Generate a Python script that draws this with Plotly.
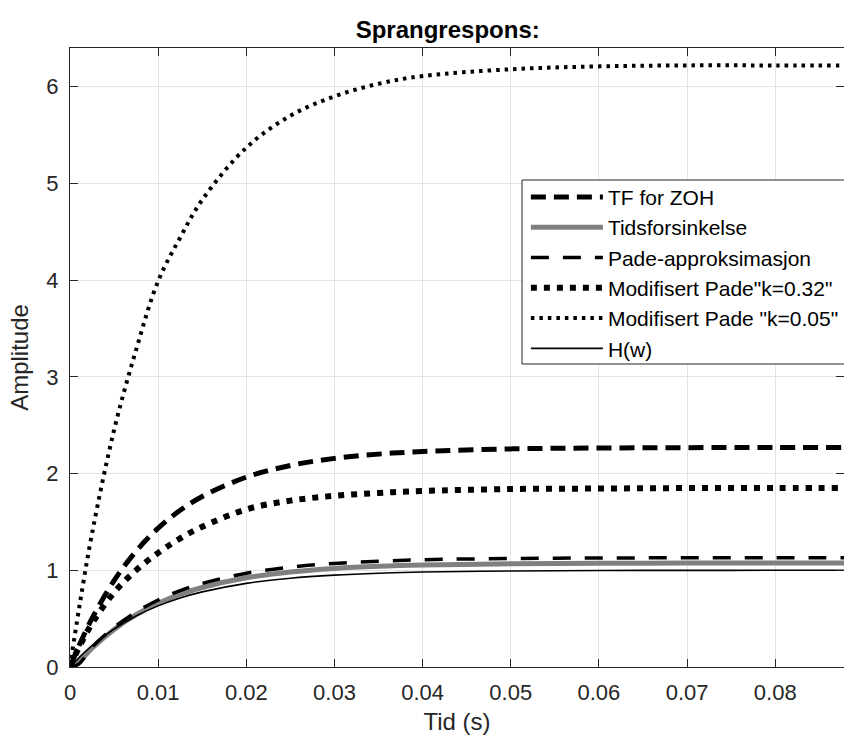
import plotly.graph_objects as go

# time samples (s)
t = [0, 0.001, 0.0025, 0.005, 0.0075, 0.01, 0.0125, 0.015, 0.02, 0.025,
     0.03, 0.035, 0.04, 0.05, 0.06, 0.07, 0.08, 0.09]

tf_zoh = [0, 0.216, 0.502, 0.893, 1.198, 1.435, 1.620, 1.763, 1.963, 2.084,
          2.157, 2.201, 2.228, 2.255, 2.264, 2.268, 2.269, 2.27]
tidsforsinkelse = [0, 0.052, 0.195, 0.389, 0.541, 0.659, 0.751, 0.822, 0.922, 0.982,
                   1.019, 1.041, 1.054, 1.067, 1.072, 1.074, 1.075, 1.075]
pade = [0, 0.03, 0.205, 0.409, 0.568, 0.693, 0.790, 0.864, 0.970, 1.033,
        1.071, 1.094, 1.109, 1.122, 1.127, 1.129, 1.13, 1.13]
mod_k032 = [0, 0.2, 0.45, 0.77, 1.0, 1.18, 1.33, 1.45, 1.63, 1.72,
            1.77, 1.80, 1.82, 1.84, 1.845, 1.85, 1.85, 1.85]
mod_k005 = [0, 0.59, 1.38, 2.45, 3.28, 3.99, 4.44, 4.83, 5.37, 5.70,
            5.90, 6.03, 6.11, 6.18, 6.21, 6.22, 6.22, 6.22]
h_w = [0, 0.095, 0.221, 0.393, 0.528, 0.632, 0.714, 0.777, 0.865, 0.918,
       0.950, 0.970, 0.982, 0.993, 0.9975, 0.999, 0.9997, 0.9999]

names = ['TF for ZOH', 'Tidsforsinkelse', 'Pade-approksimasjon',
         'Modifisert Pade"k=0.32"', 'Modifisert Pade "k=0.05"', 'H(w)']
series = [tf_zoh, tidsforsinkelse, pade, mod_k032, mod_k005, h_w]
styles = [
    dict(color='black', width=5, dash='15px,8px'),
    dict(color='#808080', width=5, dash='solid'),
    dict(color='black', width=3.5, dash='18px,14px'),
    dict(color='black', width=6, dash='6px,7px'),
    dict(color='black', width=4, dash='3.5px,5px'),
    dict(color='black', width=1.6, dash='solid'),
]

font = 'Liberation Sans, Arial, Helvetica, sans-serif'

fig = go.Figure()
for i, (nm, ys, st) in enumerate(zip(names, series, styles)):
    fig.add_trace(go.Scatter(x=t, y=ys, name=nm, mode='lines',
                             line=dict(shape='spline', smoothing=1.0, **st),
                             legendgroup=str(i)))

axis_common = dict(showgrid=True, gridcolor='#e3e3e3', gridwidth=1,
                   showline=True, linecolor='#262626', linewidth=1,
                   mirror='allticks', ticks='inside', ticklen=8,
                   tickcolor='#262626', zeroline=False, automargin=False,
                   tickfont=dict(family=font, size=22, color='#262626'))

# legend box (extends past the right edge of the figure, as in the original)
fig.add_shape(type='rect', xref='paper', yref='paper',
              x0=0.584, x1=1.05, y0=(667 - 364) / 619, y1=(667 - 180) / 619,
              line=dict(color='#262626', width=1), fillcolor='white', layer='above')

fig.update_layout(
    width=844, height=742,
    margin=dict(l=70, r=0, t=48, b=75, autoexpand=False),
    paper_bgcolor='white', plot_bgcolor='white',
    title=dict(text='<b>Sprangrespons:</b>', x=0.488, xref='paper', xanchor='center',
               y=1 - 30 / 742, yanchor='middle',
               font=dict(family=font, size=24, color='black')),
    xaxis=dict(range=[0, 0.0878], tickvals=[0, 0.01, 0.02, 0.03, 0.04, 0.05, 0.06, 0.07, 0.08],
               ticktext=['0', '0.01', '0.02', '0.03', '0.04', '0.05', '0.06', '0.07', '0.08'],
               title=dict(text='Tid (s)', font=dict(family=font, size=24, color='#262626'), standoff=8),
               ticklabelstandoff=6, **axis_common),
    yaxis=dict(range=[0, 6.4], tickvals=[0, 1, 2, 3, 4, 5, 6],
               title=dict(text='Amplitude', font=dict(family=font, size=24, color='#262626'), standoff=10),
               ticklabelstandoff=6, **axis_common),
    legend=dict(x=0.589, y=0.792, xanchor='left', yanchor='top',
                bgcolor='rgba(0,0,0,0)', borderwidth=0,
                font=dict(family=font, size=21, color='black'),
                itemwidth=72, traceorder='grouped', tracegroupgap=0),
    showlegend=True,
)

fig.write_html('out.html')
